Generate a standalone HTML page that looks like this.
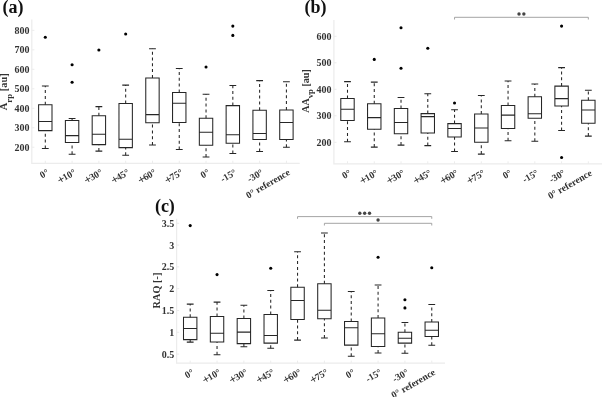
<!DOCTYPE html>
<html><head><meta charset="utf-8"><style>
html,body{margin:0;padding:0;background:#fff;width:602px;height:397px;overflow:hidden}
svg{display:block;will-change:transform}
text{font-family:"Liberation Serif", serif}
.t{font-size:10px;font-weight:bold;fill:#333333}
.xt{font-size:9.6px;font-weight:bold;fill:#333333}
.yl{fill:#333333;white-space:pre;font-weight:bold}
.pl{font-size:18px;font-weight:bold;fill:#111}
.st{font-size:8px;font-weight:bold;fill:#555}
</style></head><body>
<svg width="602" height="397" viewBox="0 0 602 397">
<rect width="602" height="397" fill="#fff"/>
<path d="M31.8 19.5V163.3H299.7" stroke="#ececec" stroke-width="1.2" fill="none"/>
<text x="29.4" y="150.63" text-anchor="end" class="t">200</text>
<text x="29.4" y="131.15" text-anchor="end" class="t">300</text>
<text x="29.4" y="111.67" text-anchor="end" class="t">400</text>
<text x="29.4" y="92.19" text-anchor="end" class="t">500</text>
<text x="29.4" y="72.71" text-anchor="end" class="t">600</text>
<text x="29.4" y="53.23" text-anchor="end" class="t">700</text>
<text x="29.4" y="33.75" text-anchor="end" class="t">800</text>
<text transform="translate(49.6 174.2) rotate(-30)" text-anchor="end" class="xt">0°</text>
<text transform="translate(76.39 174.2) rotate(-30)" text-anchor="end" class="xt"><tspan font-size="12.5px" dx="0.1" dy="0.9">+</tspan><tspan dx="-1.1" dy="-0.9">10°</tspan></text>
<text transform="translate(103.18 174.2) rotate(-30)" text-anchor="end" class="xt"><tspan font-size="12.5px" dx="0.1" dy="0.9">+</tspan><tspan dx="-1.1" dy="-0.9">30°</tspan></text>
<text transform="translate(129.97 174.2) rotate(-30)" text-anchor="end" class="xt"><tspan font-size="12.5px" dx="0.1" dy="0.9">+</tspan><tspan dx="-1.1" dy="-0.9">45°</tspan></text>
<text transform="translate(156.76 174.2) rotate(-30)" text-anchor="end" class="xt"><tspan font-size="12.5px" dx="0.1" dy="0.9">+</tspan><tspan dx="-1.1" dy="-0.9">60°</tspan></text>
<text transform="translate(183.55 174.2) rotate(-30)" text-anchor="end" class="xt"><tspan font-size="12.5px" dx="0.1" dy="0.9">+</tspan><tspan dx="-1.1" dy="-0.9">75°</tspan></text>
<text transform="translate(210.34 174.2) rotate(-30)" text-anchor="end" class="xt">0°</text>
<text transform="translate(237.13 174.2) rotate(-30)" text-anchor="end" class="xt">-15°</text>
<text transform="translate(263.92 174.2) rotate(-30)" text-anchor="end" class="xt">-30°</text>
<text transform="translate(290.71 174.2) rotate(-30)" text-anchor="end" class="xt">0° reference</text>
<path d="M31.8 147.23h2.6M31.8 127.75h2.6M31.8 108.27h2.6M31.8 88.79h2.6M31.8 69.31h2.6M31.8 49.83h2.6M31.8 30.35h2.6M45.3 163.3v-2.6M72.09 163.3v-2.6M98.88 163.3v-2.6M125.67 163.3v-2.6M152.46 163.3v-2.6M179.25 163.3v-2.6M206.04 163.3v-2.6M232.83 163.3v-2.6M259.62 163.3v-2.6M286.41 163.3v-2.6" stroke="#ececec" stroke-width="1" fill="none"/>
<g stroke="#262626" stroke-width="1.05" stroke-dasharray="3 2.8" fill="none"><path d="M45.3 104.7V85.9"/><path d="M45.3 148.4V130.6"/><path d="M72.09 120.4V118.5"/><path d="M72.09 154.3V142.4"/><path d="M98.88 115.8V106.6"/><path d="M98.88 151.1V144.6"/><path d="M125.67 103.4V85.1"/><path d="M125.67 155.2V147.6"/><path d="M152.46 77.9V48.8"/><path d="M152.46 145V122.7"/><path d="M179.25 92.4V68.4"/><path d="M179.25 149.5V122.4"/><path d="M206.04 118.2V94.2"/><path d="M206.04 157V145.3"/><path d="M232.83 105.6V85.5"/><path d="M232.83 153.4V143.2"/><path d="M259.62 110.2V80.6"/><path d="M259.62 151.4V139.5"/><path d="M286.41 109.9V81.8"/><path d="M286.41 147.3V139.5"/></g>
<path d="M38.6 104.7H52V130.6H38.6ZM38.6 121.5H52M41.9 85.9H48.7M41.9 148.4H48.7M65.39 120.4H78.79V142.4H65.39ZM65.39 135.6H78.79M68.69 118.5H75.49M68.69 154.3H75.49M92.18 115.8H105.58V144.6H92.18ZM92.18 134.3H105.58M95.48 106.6H102.28M95.48 151.1H102.28M118.97 103.4H132.37V147.6H118.97ZM118.97 139.2H132.37M122.27 85.1H129.07M122.27 155.2H129.07M145.76 77.9H159.16V122.7H145.76ZM145.76 114.6H159.16M149.06 48.8H155.86M149.06 145H155.86M172.55 92.4H185.95V122.4H172.55ZM172.55 103.3H185.95M175.85 68.4H182.65M175.85 149.5H182.65M199.34 118.2H212.74V145.3H199.34ZM199.34 132.3H212.74M202.64 94.2H209.44M202.64 157H209.44M226.13 105.6H239.53V143.2H226.13ZM226.13 134.7H239.53M229.43 85.5H236.23M229.43 153.4H236.23M252.92 110.2H266.32V139.5H252.92ZM252.92 133.5H266.32M256.22 80.6H263.02M256.22 151.4H263.02M279.71 109.9H293.11V139.5H279.71ZM279.71 122.4H293.11M283.01 81.8H289.81M283.01 147.3H289.81" stroke="#262626" stroke-width="1.05" fill="none"/>
<g fill="#000"><circle cx="45.3" cy="37.3" r="1.55"/><circle cx="72.09" cy="64.7" r="1.55"/><circle cx="72.09" cy="82.2" r="1.55"/><circle cx="98.88" cy="50" r="1.55"/><circle cx="125.67" cy="34" r="1.55"/><circle cx="206.04" cy="67" r="1.55"/><circle cx="232.83" cy="26.1" r="1.55"/><circle cx="232.83" cy="35.4" r="1.55"/></g>
<text x="2.5" y="12.6" class="pl">(a)</text>
<text transform="translate(7.4 110.3) rotate(-90)" font-size="10.5px" class="yl"><tspan>A</tspan><tspan dy="5.0" font-size="8.8px">rp</tspan><tspan dy="-5.0"> [au]</tspan></text>
<path d="M333.9 20V163.9H602" stroke="#ececec" stroke-width="1.2" fill="none"/>
<text x="331.5" y="145.7" text-anchor="end" class="t">200</text>
<text x="331.5" y="119.2" text-anchor="end" class="t">300</text>
<text x="331.5" y="92.7" text-anchor="end" class="t">400</text>
<text x="331.5" y="66.2" text-anchor="end" class="t">500</text>
<text x="331.5" y="39.7" text-anchor="end" class="t">600</text>
<text transform="translate(351.8 174.8) rotate(-30)" text-anchor="end" class="xt">0°</text>
<text transform="translate(378.56 174.8) rotate(-30)" text-anchor="end" class="xt"><tspan font-size="12.5px" dx="0.1" dy="0.9">+</tspan><tspan dx="-1.1" dy="-0.9">10°</tspan></text>
<text transform="translate(405.32 174.8) rotate(-30)" text-anchor="end" class="xt"><tspan font-size="12.5px" dx="0.1" dy="0.9">+</tspan><tspan dx="-1.1" dy="-0.9">30°</tspan></text>
<text transform="translate(432.08 174.8) rotate(-30)" text-anchor="end" class="xt"><tspan font-size="12.5px" dx="0.1" dy="0.9">+</tspan><tspan dx="-1.1" dy="-0.9">45°</tspan></text>
<text transform="translate(458.84 174.8) rotate(-30)" text-anchor="end" class="xt"><tspan font-size="12.5px" dx="0.1" dy="0.9">+</tspan><tspan dx="-1.1" dy="-0.9">60°</tspan></text>
<text transform="translate(485.6 174.8) rotate(-30)" text-anchor="end" class="xt"><tspan font-size="12.5px" dx="0.1" dy="0.9">+</tspan><tspan dx="-1.1" dy="-0.9">75°</tspan></text>
<text transform="translate(512.36 174.8) rotate(-30)" text-anchor="end" class="xt">0°</text>
<text transform="translate(539.12 174.8) rotate(-30)" text-anchor="end" class="xt">-15°</text>
<text transform="translate(565.88 174.8) rotate(-30)" text-anchor="end" class="xt">-30°</text>
<text transform="translate(592.64 174.8) rotate(-30)" text-anchor="end" class="xt">0° reference</text>
<path d="M333.9 142.3h2.6M333.9 115.8h2.6M333.9 89.3h2.6M333.9 62.8h2.6M333.9 36.3h2.6M347.5 163.9v-2.6M374.26 163.9v-2.6M401.02 163.9v-2.6M427.78 163.9v-2.6M454.54 163.9v-2.6M481.3 163.9v-2.6M508.06 163.9v-2.6M534.82 163.9v-2.6M561.58 163.9v-2.6M588.34 163.9v-2.6" stroke="#ececec" stroke-width="1" fill="none"/>
<g stroke="#262626" stroke-width="1.05" stroke-dasharray="3 2.8" fill="none"><path d="M347.5 98.5V81.6"/><path d="M347.5 141.7V120.4"/><path d="M374.26 103.7V82.1"/><path d="M374.26 147.1V129.2"/><path d="M401.02 108.5V97.4"/><path d="M401.02 145.1V133.7"/><path d="M427.78 113.6V93.7"/><path d="M427.78 145.6V132.9"/><path d="M454.54 123.6V109.8"/><path d="M454.54 151.4V137"/><path d="M481.3 114V95.4"/><path d="M481.3 154.1V142.3"/><path d="M508.06 105.4V81"/><path d="M508.06 140.8V128.5"/><path d="M534.82 96.7V84"/><path d="M534.82 141.3V118.2"/><path d="M561.58 86.1V67.6"/><path d="M561.58 130.5V105.9"/><path d="M588.34 100.2V90.2"/><path d="M588.34 136.1V123.2"/></g>
<path d="M340.8 98.5H354.2V120.4H340.8ZM340.8 109.2H354.2M344.1 81.6H350.9M344.1 141.7H350.9M367.56 103.7H380.96V129.2H367.56ZM367.56 117.6H380.96M370.86 82.1H377.66M370.86 147.1H377.66M394.32 108.5H407.72V133.7H394.32ZM394.32 122.4H407.72M397.62 97.4H404.42M397.62 145.1H404.42M421.08 113.6H434.48V132.9H421.08ZM421.08 116.6H434.48M424.38 93.7H431.18M424.38 145.6H431.18M447.84 123.6H461.24V137H447.84ZM447.84 128.5H461.24M451.14 109.8H457.94M451.14 151.4H457.94M474.6 114H488V142.3H474.6ZM474.6 128H488M477.9 95.4H484.7M477.9 154.1H484.7M501.36 105.4H514.76V128.5H501.36ZM501.36 115.1H514.76M504.66 81H511.46M504.66 140.8H511.46M528.12 96.7H541.52V118.2H528.12ZM528.12 113.7H541.52M531.42 84H538.22M531.42 141.3H538.22M554.88 86.1H568.28V105.9H554.88ZM554.88 98.6H568.28M558.18 67.6H564.98M558.18 130.5H564.98M581.64 100.2H595.04V123.2H581.64ZM581.64 109.9H595.04M584.94 90.2H591.74M584.94 136.1H591.74" stroke="#262626" stroke-width="1.05" fill="none"/>
<g fill="#000"><circle cx="374.26" cy="59.4" r="1.55"/><circle cx="401.02" cy="27.7" r="1.55"/><circle cx="401.02" cy="68.3" r="1.55"/><circle cx="427.78" cy="48.3" r="1.55"/><circle cx="454.54" cy="103" r="1.55"/><circle cx="561.58" cy="26.1" r="1.55"/><circle cx="561.58" cy="157.5" r="1.55"/></g>
<path d="M454.54 19.5V17.3H588.34V19.5" stroke="#9a9a9a" stroke-width="0.9" fill="none"/>
<circle cx="519.02" cy="14" r="1.7" fill="#454545"/>
<circle cx="523.87" cy="14" r="1.7" fill="#454545"/>
<text x="304.6" y="12.9" class="pl">(b)</text>
<text transform="translate(309 112.8) rotate(-90)" font-size="10.1px" class="yl"><tspan>AA</tspan><tspan dy="4.4" font-size="8.6px">vp</tspan><tspan dy="-4.4"> [au]</tspan></text>
<path d="M176.6 218.8V363.2H445" stroke="#ececec" stroke-width="1.2" fill="none"/>
<text x="174.2" y="357.5" text-anchor="end" class="t">0.5</text>
<text x="174.2" y="335.7" text-anchor="end" class="t">1</text>
<text x="174.2" y="313.9" text-anchor="end" class="t">1.5</text>
<text x="174.2" y="292.1" text-anchor="end" class="t">2</text>
<text x="174.2" y="270.3" text-anchor="end" class="t">2.5</text>
<text x="174.2" y="248.5" text-anchor="end" class="t">3</text>
<text x="174.2" y="226.7" text-anchor="end" class="t">3.5</text>
<text transform="translate(194.5 374.1) rotate(-30)" text-anchor="end" class="xt">0°</text>
<text transform="translate(221.34 374.1) rotate(-30)" text-anchor="end" class="xt"><tspan font-size="12.5px" dx="0.1" dy="0.9">+</tspan><tspan dx="-1.1" dy="-0.9">10°</tspan></text>
<text transform="translate(248.18 374.1) rotate(-30)" text-anchor="end" class="xt"><tspan font-size="12.5px" dx="0.1" dy="0.9">+</tspan><tspan dx="-1.1" dy="-0.9">30°</tspan></text>
<text transform="translate(275.02 374.1) rotate(-30)" text-anchor="end" class="xt"><tspan font-size="12.5px" dx="0.1" dy="0.9">+</tspan><tspan dx="-1.1" dy="-0.9">45°</tspan></text>
<text transform="translate(301.86 374.1) rotate(-30)" text-anchor="end" class="xt"><tspan font-size="12.5px" dx="0.1" dy="0.9">+</tspan><tspan dx="-1.1" dy="-0.9">60°</tspan></text>
<text transform="translate(328.7 374.1) rotate(-30)" text-anchor="end" class="xt"><tspan font-size="12.5px" dx="0.1" dy="0.9">+</tspan><tspan dx="-1.1" dy="-0.9">75°</tspan></text>
<text transform="translate(355.54 374.1) rotate(-30)" text-anchor="end" class="xt">0°</text>
<text transform="translate(382.38 374.1) rotate(-30)" text-anchor="end" class="xt">-15°</text>
<text transform="translate(409.22 374.1) rotate(-30)" text-anchor="end" class="xt">-30°</text>
<text transform="translate(436.06 374.1) rotate(-30)" text-anchor="end" class="xt">0° reference</text>
<path d="M176.6 354.1h2.6M176.6 332.3h2.6M176.6 310.5h2.6M176.6 288.7h2.6M176.6 266.9h2.6M176.6 245.1h2.6M176.6 223.3h2.6M190.2 363.2v-2.6M217.04 363.2v-2.6M243.88 363.2v-2.6M270.72 363.2v-2.6M297.56 363.2v-2.6M324.4 363.2v-2.6M351.24 363.2v-2.6M378.08 363.2v-2.6M404.92 363.2v-2.6M431.76 363.2v-2.6" stroke="#ececec" stroke-width="1" fill="none"/>
<g stroke="#262626" stroke-width="1.05" stroke-dasharray="3 2.8" fill="none"><path d="M190.2 317.2V304.1"/><path d="M190.2 342.1V339.6"/><path d="M217.04 316.4V302.1"/><path d="M217.04 354.7V341.9"/><path d="M243.88 318.4V305.2"/><path d="M243.88 346.7V343.6"/><path d="M270.72 314.4V290.4"/><path d="M270.72 348.2V343.1"/><path d="M297.56 287.3V251.8"/><path d="M297.56 340.1V319.4"/><path d="M324.4 283.7V233"/><path d="M324.4 337.9V318.8"/><path d="M351.24 321.4V291.5"/><path d="M351.24 356.2V345.1"/><path d="M378.08 318V285"/><path d="M378.08 353V346.4"/><path d="M404.92 332.2V322.4"/><path d="M404.92 353.3V343.1"/><path d="M431.76 322V304.4"/><path d="M431.76 345.3V336.4"/></g>
<path d="M183.5 317.2H196.9V339.6H183.5ZM183.5 328.5H196.9M186.8 304.1H193.6M186.8 342.1H193.6M210.34 316.4H223.74V341.9H210.34ZM210.34 333.3H223.74M213.64 302.1H220.44M213.64 354.7H220.44M237.18 318.4H250.58V343.6H237.18ZM237.18 332.1H250.58M240.48 305.2H247.28M240.48 346.7H247.28M264.02 314.4H277.42V343.1H264.02ZM264.02 335.5H277.42M267.32 290.4H274.12M267.32 348.2H274.12M290.86 287.3H304.26V319.4H290.86ZM290.86 300.5H304.26M294.16 251.8H300.96M294.16 340.1H300.96M317.7 283.7H331.1V318.8H317.7ZM317.7 310.3H331.1M321 233H327.8M321 337.9H327.8M344.54 321.4H357.94V345.1H344.54ZM344.54 327.7H357.94M347.84 291.5H354.64M347.84 356.2H354.64M371.38 318H384.78V346.4H371.38ZM371.38 333.7H384.78M374.68 285H381.48M374.68 353H381.48M398.22 332.2H411.62V343.1H398.22ZM398.22 338.2H411.62M401.52 322.4H408.32M401.52 353.3H408.32M425.06 322H438.46V336.4H425.06ZM425.06 330.2H438.46M428.36 304.4H435.16M428.36 345.3H435.16" stroke="#262626" stroke-width="1.05" fill="none"/>
<g fill="#000"><circle cx="190.2" cy="225.6" r="1.55"/><circle cx="217.04" cy="274.6" r="1.55"/><circle cx="270.72" cy="268.3" r="1.55"/><circle cx="378.08" cy="257.2" r="1.55"/><circle cx="404.92" cy="299.8" r="1.55"/><circle cx="404.92" cy="307.9" r="1.55"/><circle cx="431.76" cy="267.8" r="1.55"/></g>
<path d="M297.56 218.8V216.6H431.76V218.8" stroke="#9a9a9a" stroke-width="0.9" fill="none"/>
<circle cx="359.81" cy="213.3" r="1.7" fill="#454545"/>
<circle cx="364.66" cy="213.3" r="1.7" fill="#454545"/>
<circle cx="369.51" cy="213.3" r="1.7" fill="#454545"/>
<path d="M324.4 225.5V223.3H431.76V225.5" stroke="#9a9a9a" stroke-width="0.9" fill="none"/>
<circle cx="378.08" cy="220" r="1.7" fill="#454545"/>
<text x="154.9" y="211.6" class="pl">(c)</text>
<text transform="translate(159.8 308.4) rotate(-90)" font-size="10.3px" class="yl">RAQ [-]</text>
</svg>
</body></html>
